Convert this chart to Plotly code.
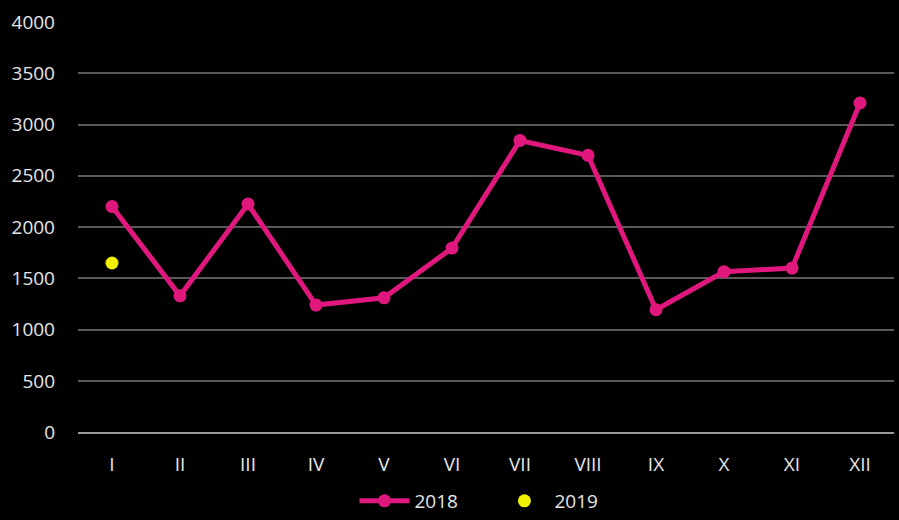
import plotly.graph_objects as go

months = ["I", "II", "III", "IV", "V", "VI", "VII", "VIII", "IX", "X", "XI", "XII"]
values_2018 = [2200, 1330, 2225, 1240, 1310, 1795, 2845, 2700, 1195, 1565, 1600, 3210]
months_2019 = ["I"]
values_2019 = [1650]

fig = go.Figure()
fig.add_trace(go.Scatter(
    x=months, y=values_2018, name="2018", mode="lines+markers",
    line=dict(color="#e0187d", width=5),
    marker=dict(color="#e0187d", size=13),
))
fig.add_trace(go.Scatter(
    x=months_2019, y=values_2019, name="2019", mode="markers",
    marker=dict(color="#f2f200", size=13),
))

font = dict(family="Open Sans, Noto Sans, sans-serif", size=19, color="#e6e6e6")
fig.update_layout(
    width=899, height=520,
    paper_bgcolor="#000000", plot_bgcolor="#000000",
    font=font,
    margin=dict(l=78, r=5, t=22, b=86),
    showlegend=True,
    legend=dict(orientation="h", x=0.55, xanchor="center", xref="container",
                y=-0.02, yanchor="bottom", yref="container",
                font=font, itemwidth=50, entrywidth=75, entrywidthmode="pixels"),
    xaxis=dict(type="category", categoryorder="array", categoryarray=months,
               range=[-0.5, 11.5],
               showgrid=False, showline=True, linecolor="#9a9a9a", linewidth=2,
               ticks="", ticklabelstandoff=14, tickfont=font),
    yaxis=dict(range=[0, 4000], dtick=500, showgrid=True, gridcolor="#5a5a5a",
               gridwidth=1.5, zeroline=False, showline=False, ticks="",
               ticklabelstandoff=22, tickfont=font),
)
fig.write_html(
    "out.html",
    config={"displayModeBar": False},
    post_script="document.body.style.margin='0';document.body.style.background='#000';",
)
